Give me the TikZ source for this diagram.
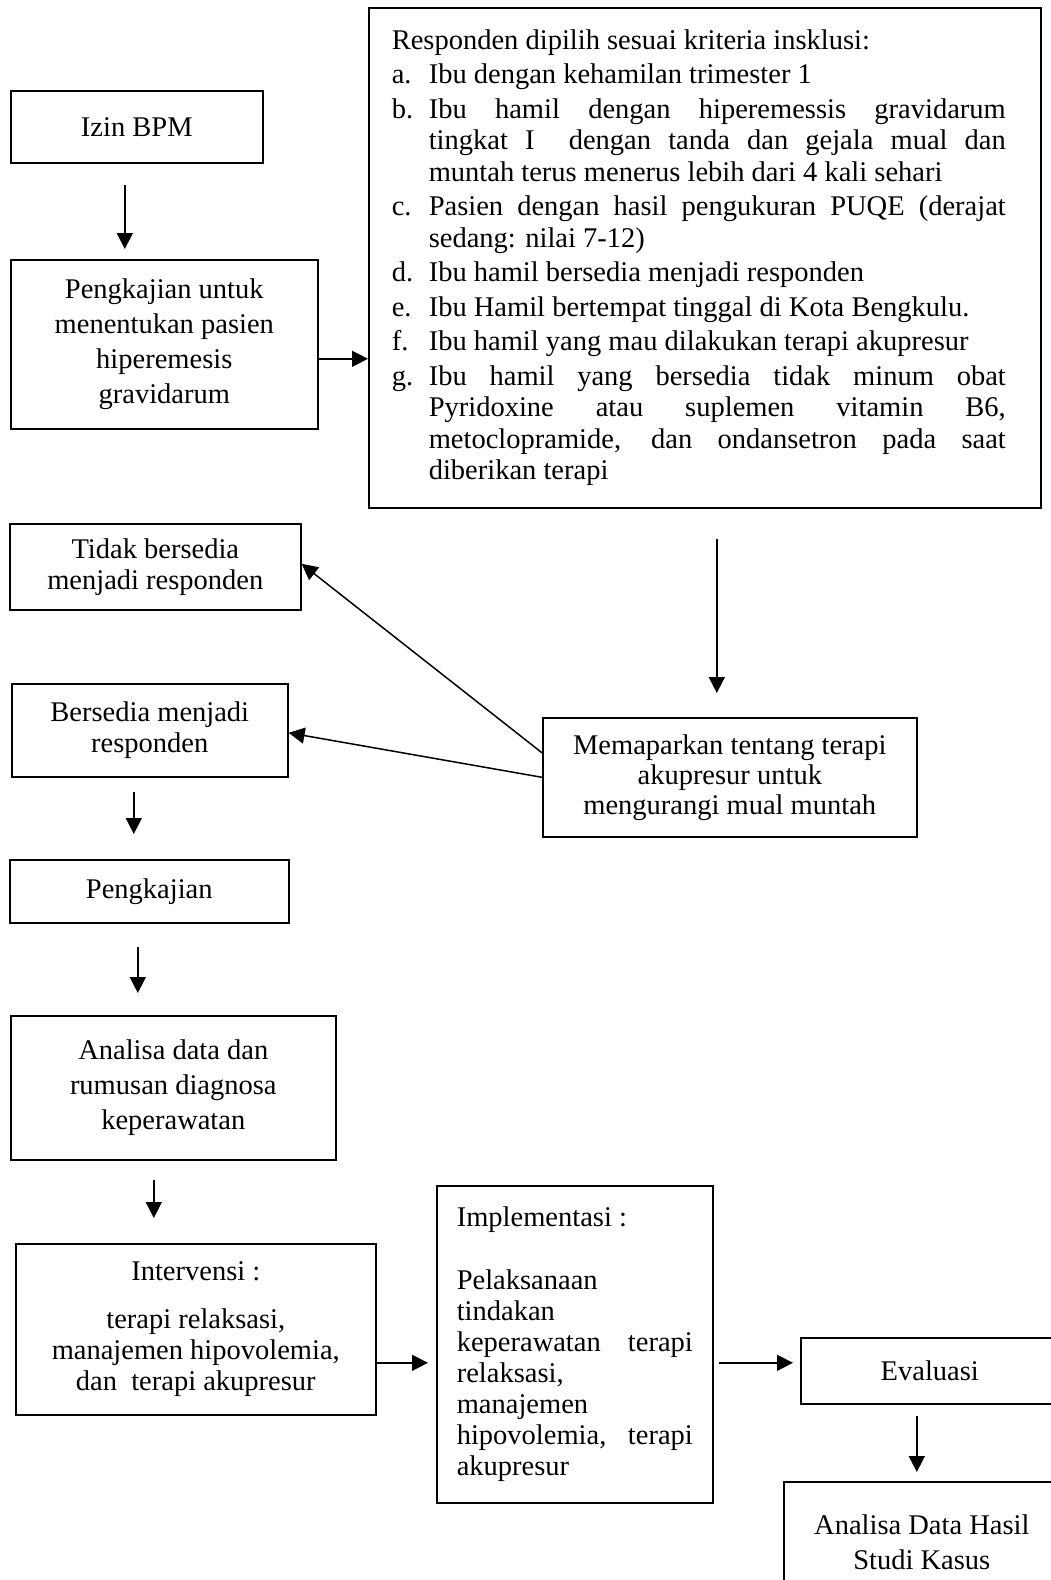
\documentclass[tikz,border=0pt]{standalone}
\usepackage{fontspec}
\setmainfont{Liberation Serif}
\usetikzlibrary{arrows.meta}

\newcommand{\lbl}[1]{\makebox[37pt][l]{#1}}
\newcommand{\jst}[2]{\makebox[#1][s]{#2}}

\begin{document}
\begin{tikzpicture}[x=1pt,y=-1pt,
    box/.style={draw,line width=1.6pt,anchor=north west,inner xsep=10pt,inner ysep=6pt,
      align=center,font=\fontsize{28.5}{31}\selectfont},
    loose/.style={font=\fontsize{28.5}{35}\selectfont},
    arr/.style={-{Triangle[length=16pt,width=16pt]},line width=1.5pt}]

  \useasboundingbox (0,0) rectangle (1051,1580);
  \fill[white] (0,0) rectangle (1051,1580);
  \clip (0,0) rectangle (1051,1580);

  \node[box,minimum width=252pt,minimum height=72pt] (izin) at (10,90) {Izin BPM};
  \node[box,loose,minimum width=307pt,minimum height=169pt] (pengkaji) at (10,259)
    {Pengkajian untuk\\menentukan pasien\\hiperemesis\\gravidarum};

  \node[box,align=left,font=\fontsize{28.5}{31.5}\selectfont,minimum width=672pt,minimum height=500pt] (kriteria) at (368,7) {%
    \makebox[626pt][l]{Responden dipilih sesuai kriteria insklusi:}\\[3pt]
    \lbl{a.}Ibu dengan kehamilan trimester 1\\[3pt]
    \lbl{b.}\jst{577pt}{Ibu hamil dengan hiperemessis gravidarum}\\
    \lbl{}\jst{577pt}{tingkat I~ dengan tanda dan gejala mual dan}\\
    \lbl{}muntah terus menerus lebih dari 4 kali sehari\\[3pt]
    \lbl{c.}\jst{577pt}{Pasien dengan hasil pengukuran PUQE (derajat}\\
    \lbl{}sedang: nilai 7-12)\\[3pt]
    \lbl{d.}Ibu hamil bersedia menjadi responden\\[3pt]
    \lbl{e.}Ibu Hamil bertempat tinggal di Kota Bengkulu.\\[3pt]
    \lbl{f.}Ibu hamil yang mau dilakukan terapi akupresur\\[3pt]
    \lbl{g.}\jst{577pt}{Ibu hamil yang bersedia tidak minum obat}\\
    \lbl{}\jst{577pt}{Pyridoxine atau suplemen vitamin B6,}\\
    \lbl{}\jst{577pt}{metoclopramide, dan ondansetron pada saat}\\
    \lbl{}diberikan terapi};

  \node[box,minimum width=291pt,minimum height=86pt] (tidak) at (9,523)
    {Tidak bersedia\\menjadi responden};
  \node[box,minimum width=276pt,minimum height=93pt] (bersedia) at (11,683)
    {Bersedia menjadi\\responden};
  \node[box,font=\fontsize{28.5}{30}\selectfont,minimum width=374pt,minimum height=119pt] (papar) at (542,717)
    {Memaparkan tentang terapi\\akupresur untuk\\mengurangi mual muntah};
  \node[box,minimum width=279pt,minimum height=63pt] (kaji) at (9,859) {Pengkajian};
  \node[box,loose,minimum width=325pt,minimum height=144pt] (analisa) at (10,1015)
    {Analisa data dan\\rumusan diagnosa\\keperawatan};
  \node[box,minimum width=360pt,minimum height=171pt] (intervensi) at (15,1243)
    {Intervensi :\\[17pt]terapi relaksasi,\\manajemen hipovolemia,\\dan~ terapi akupresur};
  \node[box,align=left,minimum width=276pt,minimum height=317pt] (implementasi) at (436,1185) {%
    Implementasi :\\[32pt]
    Pelaksanaan\\
    tindakan\\
    \jst{236pt}{keperawatan~ terapi}\\
    relaksasi,\\
    manajemen\\
    \jst{236pt}{hipovolemia, terapi}\\
    akupresur};
  \node[box,minimum width=258pt,minimum height=66pt] (evaluasi) at (800,1337) {Evaluasi};
  \node[box,loose,minimum width=276pt,minimum height=120pt] (hasil) at (783,1481)
    {Analisa Data Hasil\\Studi Kasus};

  \draw[arr] ([xshift=-12pt,yshift=-21pt]izin.south) -- ([xshift=-39.5pt,yshift=10pt]pengkaji.north);
  \draw[arr] ([yshift=-14.5pt]pengkaji.east) -- ([yshift=-101pt]kriteria.west);
  \draw[arr] ([xshift=12pt,yshift=-30pt]kriteria.south) -- ([xshift=-13pt,yshift=24pt]papar.north);
  \draw[arr] ([yshift=24.5pt]papar.west) -- ([yshift=3pt]tidak.east);
  \draw[arr] (papar.west) -- ([yshift=-2.5pt]bersedia.east);
  \draw[arr] ([xshift=-16pt,yshift=-14pt]bersedia.south) -- ([xshift=-15.5pt,yshift=25pt]kaji.north);
  \draw[arr] ([xshift=-11.5pt,yshift=-23pt]kaji.south) -- ([xshift=-35.5pt,yshift=22pt]analisa.north);
  \draw[arr] ([xshift=-19.5pt,yshift=-19pt]analisa.south) -- ([xshift=-42pt,yshift=25pt]intervensi.north);
  \draw[arr] ([yshift=-33.5pt]intervensi.east) -- ([xshift=-8pt,yshift=-18.5pt]implementasi.west);
  \draw[arr] ([xshift=5pt,yshift=-18.5pt]implementasi.east) -- ([xshift=-7pt,yshift=8pt]evaluasi.west);
  \draw[arr] ([xshift=-13pt,yshift=-11pt]evaluasi.south) -- ([xshift=-5pt,yshift=9pt]hasil.north);
\end{tikzpicture}
\end{document}
